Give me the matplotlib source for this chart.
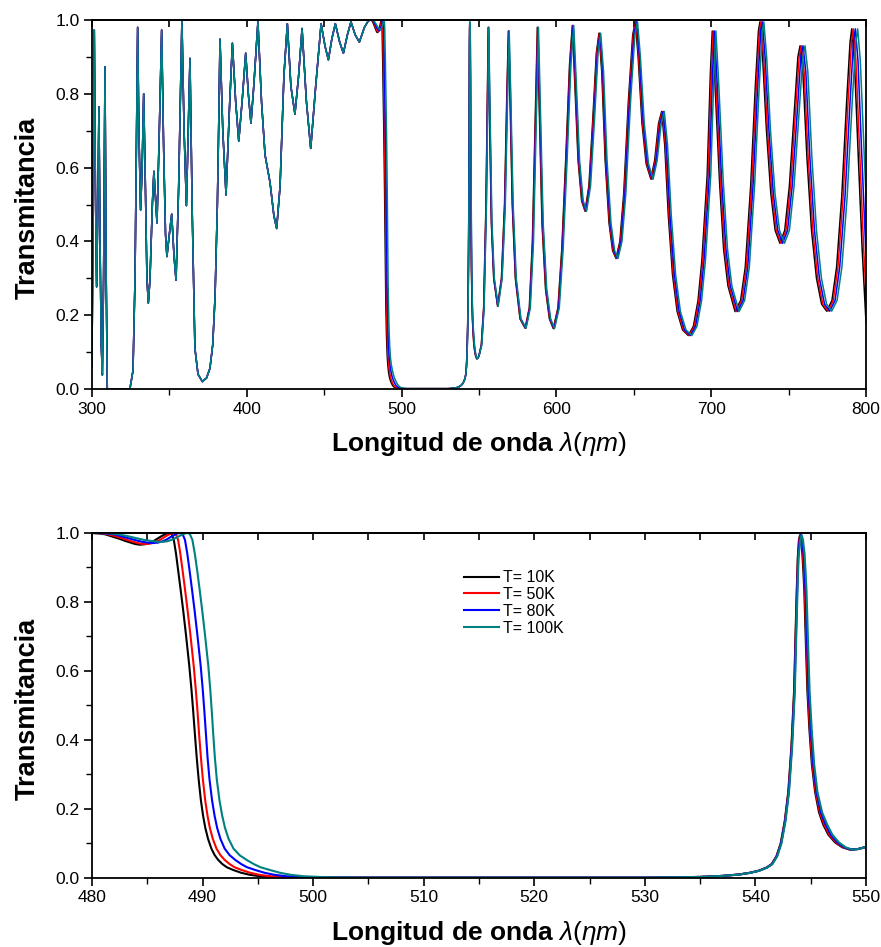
import numpy as np
import matplotlib
matplotlib.use('Agg')
import matplotlib.pyplot as plt
from matplotlib.ticker import MultipleLocator

plt.rcParams['font.family'] = ['Liberation Sans', 'DejaVu Sans']
plt.rcParams['mathtext.fontset'] = 'custom'
plt.rcParams['mathtext.rm'] = 'Liberation Sans'
plt.rcParams['mathtext.bf'] = 'Liberation Sans:bold'
plt.rcParams['mathtext.it'] = 'Liberation Sans:italic'

temps = ['T= 10K', 'T= 50K', 'T= 80K', 'T= 100K']
colors = ['black', '#ff0000', '#0000ff', '#008080']

# ---- 300-478 nm, the four curves lie on top of each other ----
wl_left = [300.0, 300.7, 301.5, 302.2, 303.0, 303.8, 304.5, 305.2, 306.0, 306.7,
           307.5, 308.4, 309.2, 309.9, 324.5, 326.5, 327.8, 328.8, 329.5, 330.3,
           331.4, 332.4, 333.4, 334.5, 335.5, 336.4, 337.5, 339.0, 340.0, 341.0,
           342.0, 343.5, 345.0, 346.3, 347.5, 348.4, 350.0, 351.5, 353.0, 354.3,
           356.0, 358.1, 359.5, 361.0, 362.2, 363.3, 364.8, 366.5, 368.5, 371.3,
           374.0, 376.2, 378.0, 379.5, 381.0, 382.0, 382.7, 384.5, 386.6, 388.7,
           390.7, 392.8, 394.8, 397.0, 399.3, 401.0, 402.7, 404.5, 407.2, 409.5,
           411.8, 415.0, 417.5, 419.3, 421.5, 424.0, 426.2, 428.5, 431.1, 433.5,
           435.7, 438.5, 441.3, 444.5, 448.0, 450.5, 452.7, 455.0, 457.2, 460.0,
           462.4, 465.0, 467.3, 470.0, 472.7, 476.0, 478.5]
tr_left = [0.06, 0.5, 0.973, 0.55, 0.277, 0.5, 0.765, 0.4, 0.12, 0.038,
           0.3, 0.873, 0.3, 0.0, 0.0, 0.05, 0.3, 0.7, 0.98, 0.7,
           0.485, 0.6, 0.80, 0.55, 0.3, 0.233, 0.3, 0.5, 0.59, 0.52,
           0.45, 0.7, 0.973, 0.65, 0.42, 0.359, 0.42, 0.474, 0.36, 0.295,
           0.55, 1.0, 0.7, 0.497, 0.7, 0.896, 0.47, 0.11, 0.04, 0.02,
           0.03, 0.056, 0.12, 0.25, 0.5, 0.75, 0.948, 0.7, 0.526, 0.75,
           0.937, 0.78, 0.672, 0.78, 0.91, 0.8, 0.72, 0.82, 0.995, 0.78,
           0.634, 0.56, 0.47, 0.435, 0.55, 0.85, 0.99, 0.82, 0.745, 0.85,
           0.977, 0.78, 0.652, 0.82, 0.99, 0.93, 0.892, 0.95, 0.99, 0.94,
           0.91, 0.96, 0.995, 0.96, 0.94, 0.98, 0.998]

# ---- 480-487 nm: small dip before the band edge ----
top_wl_10 = [480.0, 480.6, 481.2, 481.8, 482.5, 483.0, 483.5, 483.9, 484.3, 484.75,
             485.2, 485.6, 486.0, 486.3, 486.6, 486.85, 487.0]
top_tr_10 = [1.0, 0.999, 0.996, 0.99, 0.983, 0.977, 0.972, 0.968, 0.966, 0.967,
             0.971, 0.977, 0.985, 0.991, 0.996, 0.999, 1.0]
top_wl_50 = [480.0, 480.9, 481.5, 482.2, 482.9, 483.45, 484.0, 484.4, 484.8, 485.25,
             485.7, 486.1, 486.5, 486.8, 487.05, 487.25, 487.4]
top_tr_50 = [1.0, 0.999, 0.996, 0.99, 0.983, 0.977, 0.972, 0.969, 0.968, 0.969,
             0.973, 0.979, 0.987, 0.993, 0.997, 0.999, 1.0]
top_wl_80 = [480.0, 481.3, 482.0, 482.7, 483.4, 483.95, 484.6, 485.05, 485.5, 485.95,
             486.4, 486.8, 487.15, 487.45, 487.65, 487.8, 487.95]
top_tr_80 = [1.0, 0.999, 0.996, 0.99, 0.984, 0.979, 0.974, 0.972, 0.971, 0.972,
             0.976, 0.982, 0.989, 0.994, 0.998, 0.999, 1.0]
top_wl_100 = [480.0, 481.6, 482.4, 483.2, 484.0, 484.7, 485.3, 485.8, 486.3, 486.8,
              487.2, 487.6, 487.9, 488.15, 488.35, 488.5, 488.65]
top_tr_100 = [1.0, 0.999, 0.996, 0.991, 0.985, 0.98, 0.977, 0.975, 0.974, 0.976,
              0.98, 0.986, 0.991, 0.995, 0.998, 0.999, 1.0]

# ---- band edge fall (same levels, edge moves right with T) ----
fall_tr = [0.997, 0.98, 0.94, 0.89, 0.84, 0.775, 0.705, 0.615, 0.545, 0.485,
           0.42, 0.35, 0.285, 0.225, 0.18, 0.145, 0.113, 0.085, 0.066, 0.052,
           0.04, 0.031, 0.023, 0.015, 0.009, 0.005, 0.003, 0.0015, 0.001]
fall_wl_10 = [487.2, 487.4, 487.6, 487.8, 488.0, 488.25, 488.5, 488.8, 489.0, 489.15,
              489.3, 489.47, 489.65, 489.85, 490.05, 490.25, 490.5, 490.8, 491.1, 491.42,
              491.8, 492.2, 492.78, 493.5, 494.3, 495.2, 496.5, 498.0, 500.0]
fall_wl_50 = [487.58, 487.79, 487.99, 488.2, 488.4, 488.65, 488.9, 489.2, 489.39, 489.54,
              489.68, 489.85, 490.03, 490.24, 490.45, 490.66, 490.93, 491.26, 491.62, 492.01,
              492.46, 492.9, 493.54, 494.31, 495.15, 496.1, 497.42, 498.92, 500.92]
fall_wl_80 = [488.19, 488.41, 488.62, 488.83, 489.03, 489.28, 489.53, 489.83, 490.02, 490.16,
              490.3, 490.45, 490.63, 490.86, 491.09, 491.32, 491.62, 492.0, 492.45, 492.97,
              493.51, 494.03, 494.77, 495.6, 496.52, 497.54, 498.9, 500.4, 502.4]
fall_wl_100 = [488.85, 489.08, 489.3, 489.52, 489.72, 489.97, 490.22, 490.52, 490.7, 490.83,
               490.96, 491.11, 491.29, 491.53, 491.78, 492.03, 492.36, 492.8, 493.35, 494.0,
               494.65, 495.25, 496.1, 497.0, 498.0, 499.1, 500.5, 502.0, 504.0]

# ---- defect mode near 544 nm ----
peak_tr = [0.001, 0.002, 0.003, 0.006, 0.01, 0.015, 0.021, 0.03, 0.04, 0.063,
           0.1, 0.165, 0.25, 0.38, 0.54, 0.7, 0.83, 0.93, 0.98, 0.994,
           0.98, 0.94, 0.89, 0.83, 0.69, 0.54, 0.43, 0.33, 0.25, 0.19,
           0.154, 0.125, 0.103, 0.089, 0.082, 0.084, 0.09]
peak_wl_10 = [530.0, 533.0, 535.0, 537.0, 538.5, 539.5, 540.3, 541.0, 541.46, 541.9,
              542.28, 542.65, 542.97, 543.25, 543.49, 543.62, 543.73, 543.83, 543.93, 544.03,
              544.13, 544.24, 544.33, 544.42, 544.55, 544.7, 544.88, 545.1, 545.39, 545.75,
              546.14, 546.6, 547.2, 547.85, 548.55, 549.3, 550.0]
peak_wl_50 = [530.01, 533.01, 535.01, 537.01, 538.51, 539.51, 540.31, 541.01, 541.48, 541.92,
              542.3, 542.67, 542.99, 543.27, 543.51, 543.64, 543.75, 543.85, 543.96, 544.07,
              544.17, 544.29, 544.38, 544.47, 544.6, 544.75, 544.93, 545.15, 545.44, 545.82,
              546.23, 546.69, 547.29, 547.93, 548.6, 549.3, 550.0]
peak_wl_80 = [530.03, 533.03, 535.03, 537.03, 538.53, 539.53, 540.33, 541.03, 541.5, 541.94,
              542.32, 542.69, 543.01, 543.29, 543.53, 543.66, 543.77, 543.87, 544.0, 544.12,
              544.23, 544.36, 544.45, 544.54, 544.67, 544.82, 545.01, 545.23, 545.52, 545.92,
              546.36, 546.82, 547.41, 548.03, 548.67, 549.3, 550.0]
peak_wl_100 = [530.05, 533.05, 535.05, 537.05, 538.55, 539.55, 540.35, 541.05, 541.53, 541.97,
               542.35, 542.72, 543.04, 543.32, 543.56, 543.69, 543.8, 543.9, 544.05, 544.18,
               544.3, 544.44, 544.53, 544.62, 544.75, 544.9, 545.09, 545.31, 545.6, 546.03,
               546.5, 546.96, 547.55, 548.15, 548.75, 549.3, 550.0]

# ---- 551-800 nm, fringes drift to the red with temperature ----
tr_right = [0.12, 0.22, 0.50, 0.80, 0.98, 0.75, 0.45, 0.30, 0.225,
            0.30, 0.50, 0.80, 0.97, 0.80, 0.50, 0.30, 0.19, 0.165,
            0.22, 0.40, 0.72, 0.98, 0.75, 0.45, 0.27, 0.19, 0.164,
            0.22, 0.38, 0.62, 0.88, 0.985, 0.82, 0.62, 0.51, 0.482,
            0.55, 0.73, 0.91, 0.964, 0.86, 0.62, 0.45, 0.375, 0.354,
            0.40, 0.53, 0.78, 0.96, 0.995, 0.90, 0.72, 0.61, 0.569,
            0.62, 0.72, 0.752, 0.66, 0.47, 0.31, 0.21, 0.16, 0.145,
            0.17, 0.24, 0.35, 0.58, 0.86, 0.97, 0.84, 0.56, 0.38, 0.28, 0.21,
            0.24, 0.33, 0.55, 0.82, 0.97, 0.995, 0.90, 0.70, 0.53, 0.43, 0.395,
            0.43, 0.55, 0.74, 0.90, 0.93, 0.86, 0.63, 0.43, 0.30, 0.23, 0.211,
            0.24, 0.33, 0.52, 0.78, 0.94, 0.976, 0.89, 0.63, 0.38, 0.18]

wl_right_10 = [551.5, 553.0, 554.5, 555.4, 556.0, 556.8, 558.0, 559.5, 562.0,
               564.5, 566.5, 568.0, 569.0, 570.0, 571.5, 573.5, 576.5, 579.8,
               582.5, 584.5, 586.3, 587.7, 589.0, 590.7, 593.0, 595.5, 598.0,
               601.0, 603.5, 606.0, 608.5, 610.3, 612.0, 614.0, 616.3, 618.5,
               621.0, 623.5, 625.8, 627.5, 629.3, 631.5, 634.0, 636.3, 638.5,
               641.0, 643.5, 646.5, 649.3, 651.0, 652.8, 655.3, 658.0, 661.0,
               663.5, 666.0, 668.0, 670.0, 672.3, 675.0, 678.0, 681.5, 685.2,
               688.5, 691.5, 694.0, 697.4, 699.5, 700.7, 702.3, 705.4, 708.0, 710.8, 715.4,
               719.0, 722.0, 725.5, 728.5, 730.5, 731.5, 733.2, 735.7, 738.5, 741.3, 744.4,
               747.5, 750.5, 753.5, 756.0, 757.4, 759.2, 761.8, 764.8, 768.0, 771.3, 774.6,
               778.0, 781.0, 784.3, 787.5, 789.7, 790.8, 792.5, 795.0, 797.5, 800.0]

wl_right_50 = [551.58, 553.08, 554.58, 555.48, 556.08, 556.89, 558.09, 559.6, 562.1,
               564.61, 566.63, 568.13, 569.13, 570.13, 571.64, 573.64, 576.65, 579.95,
               582.66, 584.68, 586.48, 587.88, 589.18, 590.89, 593.19, 595.7, 598.2,
               601.21, 603.71, 606.23, 608.73, 610.53, 612.24, 614.24, 616.55, 618.75,
               621.26, 623.78, 626.08, 627.78, 629.59, 631.8, 634.31, 636.63, 638.83,
               641.34, 643.84, 646.85, 649.65, 651.35, 653.16, 655.66, 658.38, 661.38,
               663.9, 666.43, 668.43, 670.45, 672.78, 675.5, 678.53, 682.05, 685.78,
               689.08, 692.08, 694.58, 697.98, 700.08, 701.28, 702.9, 706.0, 708.63, 711.43, 716.05,
               719.65, 722.65, 726.13, 729.13, 731.13, 732.13, 733.85, 736.35, 739.18, 742.0, 745.13,
               748.25, 751.25, 754.28, 756.8, 758.2, 760.0, 762.6, 765.6, 768.8, 772.1, 775.4,
               778.83, 781.85, 785.18, 788.4, 790.63, 791.75, 793.45, 795.98, 798.48, 800.98]

wl_right_80 = [551.7, 553.2, 554.7, 555.6, 556.2, 557.0, 558.2, 559.7, 562.2,
               564.8, 566.8, 568.3, 569.3, 570.3, 571.8, 573.8, 576.9, 580.2,
               582.9, 584.9, 586.7, 588.1, 589.4, 591.2, 593.5, 596.0, 598.5,
               601.5, 604.0, 606.5, 609.0, 610.8, 612.6, 614.6, 616.9, 619.1,
               621.6, 624.2, 626.5, 628.2, 630.0, 632.2, 634.8, 637.1, 639.3,
               641.8, 644.3, 647.3, 650.1, 651.8, 653.7, 656.2, 658.9, 661.9,
               664.5, 667.0, 669.0, 671.1, 673.4, 676.2, 679.3, 682.8, 686.6,
               689.9, 692.9, 695.4, 698.8, 700.9, 702.1, 703.7, 706.8, 709.5, 712.3, 717.0,
               720.6, 723.6, 727.0, 730.0, 732.0, 733.0, 734.8, 737.3, 740.1, 743.0, 746.1,
               749.3, 752.3, 755.4, 757.9, 759.3, 761.1, 763.7, 766.7, 769.9, 773.2, 776.5,
               780.0, 783.0, 786.4, 789.7, 791.9, 793.1, 794.8, 797.3, 799.8, 802.3]

wl_right_100 = [551.8, 553.3, 554.8, 555.7, 556.3, 557.15, 558.35, 559.9, 562.4,
                564.95, 567.0, 568.5, 569.5, 570.5, 572.05, 574.05, 577.1, 580.4,
                583.15, 585.2, 587.0, 588.4, 589.7, 591.45, 593.75, 596.3, 598.8,
                601.85, 604.35, 606.9, 609.4, 611.2, 612.95, 614.95, 617.3, 619.5,
                622.05, 624.6, 626.9, 628.6, 630.45, 632.7, 635.25, 637.6, 639.8,
                642.35, 644.85, 647.9, 650.7, 652.4, 654.25, 656.75, 659.5, 662.5,
                665.1, 667.7, 669.7, 671.8, 674.2, 677.0, 680.1, 683.7, 687.5,
                690.8, 693.8, 696.3, 699.7, 701.8, 703.0, 704.7, 707.8, 710.5, 713.3, 718.0,
                721.6, 724.6, 728.0, 731.0, 733.0, 734.0, 735.8, 738.3, 741.2, 744.1, 747.3,
                750.5, 753.5, 756.6, 759.2, 760.6, 762.4, 765.0, 768.0, 771.2, 774.5, 777.8,
                781.3, 784.4, 787.8, 791.1, 793.4, 794.6, 796.3, 798.9, 801.4, 803.9]

top_wl = [top_wl_10, top_wl_50, top_wl_80, top_wl_100]
top_tr = [top_tr_10, top_tr_50, top_tr_80, top_tr_100]
fall_wl = [fall_wl_10, fall_wl_50, fall_wl_80, fall_wl_100]
peak_wl = [peak_wl_10, peak_wl_50, peak_wl_80, peak_wl_100]
right_wl = [wl_right_10, wl_right_50, wl_right_80, wl_right_100]

xlabel = r'$\mathbf{Longitud\ de\ onda}\ \mathit{\lambda(\eta m)}$'

fig = plt.figure(figsize=(8.81, 9.47), dpi=100)
ax1 = fig.add_axes([0.1044, 0.5892, 0.8786, 0.3897])
ax2 = fig.add_axes([0.1044, 0.0729, 0.8786, 0.3643])


def style_axes(ax, xmaj, xmin, xlab_y):
    ax.xaxis.set_major_locator(MultipleLocator(xmaj))
    ax.xaxis.set_minor_locator(MultipleLocator(xmin))
    ax.yaxis.set_major_locator(MultipleLocator(0.2))
    ax.yaxis.set_minor_locator(MultipleLocator(0.1))
    ax.tick_params(which='major', direction='out', length=6, width=1.2, labelsize=12.5, pad=3)
    ax.tick_params(which='minor', direction='out', length=4, width=1.0)
    ax.yaxis.set_major_formatter(plt.FormatStrFormatter('%.1f'))
    for sp in ax.spines.values():
        sp.set_linewidth(1.3)
    top = ax.secondary_xaxis('top')
    top.xaxis.set_major_locator(MultipleLocator(xmin))
    top.tick_params(which='major', direction='in', length=5, width=1.2, labeltop=False)
    top.spines['top'].set_linewidth(1.3)
    ax.set_ylabel('Transmitancia', fontsize=19.5, fontweight='bold')
    ax.yaxis.set_label_coords(-0.066, 0.49)
    ax.set_xlabel(xlabel, fontsize=19)
    ax.xaxis.set_label_coords(0.5, xlab_y)


for i in range(4):
    x = np.concatenate([wl_left, top_wl[i], fall_wl[i], peak_wl[i], right_wl[i]])
    y = np.concatenate([tr_left, top_tr[i], fall_tr, peak_tr, tr_right])
    ax1.plot(x, y, color=colors[i], lw=1.1)
ax1.set_xlim(300, 800)
ax1.set_ylim(0, 1.0)
style_axes(ax1, 100, 50, -0.11)

for i in range(4):
    x = np.concatenate([top_wl[i], fall_wl[i], peak_wl[i]])
    y = np.concatenate([top_tr[i], fall_tr, peak_tr])
    ax2.plot(x, y, color=colors[i], lw=1.5, label=temps[i])
ax2.set_xlim(480, 550)
ax2.set_ylim(0, 1.0)
style_axes(ax2, 10, 5, -0.12)
ax2.legend(loc='upper left', bbox_to_anchor=(0.462, 0.934), frameon=False,
           fontsize=11.5, handlelength=2.2, handletextpad=0.25, labelspacing=0.12)

fig.savefig('out.png', dpi=100)
